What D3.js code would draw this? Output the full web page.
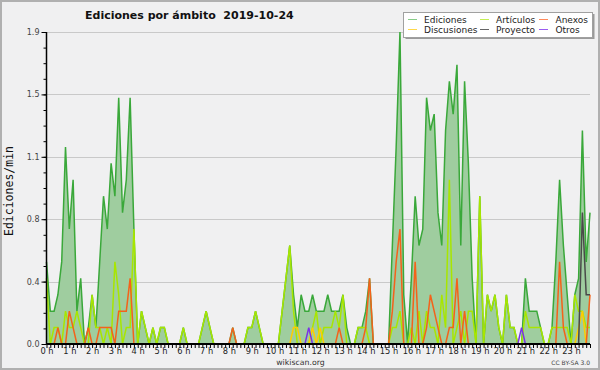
<!DOCTYPE html>
<html>
<head>
<meta charset="utf-8">
<script src="https://cdn.jsdelivr.net/npm/d3@7"></script>
<style>
  html, body { margin: 0; padding: 0; background: #f0f0f0; }
  svg { display: block; font-family: 'DejaVu Sans', sans-serif; }
</style>
</head>
<body>
<div id="app"></div>
<script>
// minutes since midnight, one point per 10-minute bin
const minutes = d3.range(0, 1440, 10);

// edits per minute (12 values = 2 hours per line)
const ediciones = [
  0.5, 0.2, 0.2, 0.3, 0.5, 1.2, 0.7, 1.0, 0.2, 0.4, 0, 0.1,
  0.3, 0.1, 0.5, 0.9, 0.7, 1.1, 0.9, 1.5, 0.8, 1.0, 1.5, 0.7,
  0, 0.2, 0.1, 0, 0.1, 0, 0.1, 0.1, 0, 0, 0, 0,
  0.1, 0, 0, 0, 0, 0.1, 0.2, 0.1, 0, 0, 0, 0,
  0, 0.1, 0, 0, 0, 0.1, 0.1, 0.2, 0.1, 0, 0, 0,
  0, 0, 0.2, 0.4, 0.6, 0.3, 0.1, 0.3, 0.2, 0.2, 0.3, 0.2,
  0.2, 0.2, 0.3, 0.2, 0.2, 0.2, 0.3, 0.1, 0, 0, 0.1, 0.1,
  0.2, 0.4, 0, 0, 0, 0, 0, 0.6, 1.2, 1.9, 0.3, 0,
  0.4, 0.9, 0.6, 0.7, 1.5, 1.3, 1.4, 0.8, 0.6, 1.3, 1.6, 1.4,
  1.7, 0.6, 1.6, 1.1, 0.4, 0, 0.9, 0, 0.3, 0.2, 0.3, 0.1,
  0, 0.3, 0.1, 0.1, 0, 0, 0.4, 0.2, 0.2, 0.2, 0.1, 0,
  0, 0.1, 0.5, 1.0, 0.6, 0.3, 0, 0.3, 0.4, 1.3, 0.5, 0.8
];

const articulos = [
  0.4, 0, 0.1, 0.1, 0, 0.2, 0.1, 0.1, 0.2, 0.1, 0, 0,
  0.3, 0.1, 0.1, 0, 0.1, 0, 0.5, 0.3, 0, 0.1, 0.1, 0.7,
  0, 0.2, 0.1, 0, 0.1, 0, 0.1, 0.1, 0, 0, 0, 0,
  0.1, 0, 0, 0, 0, 0.1, 0.2, 0.1, 0, 0, 0, 0,
  0, 0, 0, 0, 0, 0.1, 0.1, 0.2, 0.1, 0, 0, 0,
  0, 0, 0.2, 0.4, 0.6, 0.2, 0, 0, 0, 0, 0.1, 0.2,
  0, 0.1, 0.1, 0.1, 0.2, 0.1, 0.3, 0, 0, 0, 0.1, 0.1,
  0.1, 0, 0, 0, 0, 0, 0, 0.1, 0.1, 0.2, 0, 0,
  0.1, 0, 0.2, 0, 0.2, 0.1, 0.1, 0, 0.3, 0.1, 1.0, 0,
  0.1, 0.2, 0, 0.2, 0.2, 0, 0.9, 0, 0.3, 0.2, 0.3, 0.1,
  0, 0.3, 0.1, 0.1, 0, 0, 0.2, 0.1, 0.1, 0.1, 0.1, 0,
  0, 0.1, 0.1, 0.1, 0.1, 0.1, 0, 0.3, 0.2, 0.2, 0.1, 0.1
];

const anexos = [
  0, 0, 0, 0.1, 0, 0, 0.2, 0.1, 0, 0, 0, 0.1,
  0, 0, 0.1, 0.1, 0.1, 0.1, 0, 0.2, 0.2, 0.2, 0.4, 0,
  0, 0, 0, 0, 0, 0, 0, 0, 0, 0, 0, 0,
  0, 0, 0, 0, 0, 0, 0, 0, 0, 0, 0, 0,
  0, 0.1, 0, 0, 0, 0, 0, 0, 0, 0, 0, 0,
  0, 0, 0, 0, 0, 0, 0, 0, 0, 0, 0, 0,
  0, 0, 0, 0, 0, 0.1, 0, 0, 0, 0, 0, 0,
  0.1, 0.4, 0, 0, 0, 0, 0, 0.2, 0.5, 0.7, 0, 0,
  0, 0.5, 0, 0, 0.1, 0.3, 0.2, 0.1, 0, 0, 0.1, 0.1,
  0.4, 0, 0.2, 0, 0, 0, 0, 0, 0, 0, 0, 0,
  0, 0, 0, 0, 0, 0, 0, 0, 0, 0, 0, 0,
  0, 0, 0, 0.5, 0.1, 0, 0, 0, 0, 0, 0, 0.3
];

const discusiones = [
  0, 0, 0, 0, 0, 0, 0, 0, 0, 0, 0, 0,
  0, 0, 0, 0, 0, 0, 0, 0, 0, 0, 0, 0,
  0, 0, 0, 0, 0, 0, 0, 0, 0, 0, 0, 0,
  0, 0, 0, 0, 0, 0, 0, 0, 0, 0, 0, 0,
  0, 0, 0, 0, 0, 0, 0, 0, 0, 0, 0, 0,
  0, 0, 0, 0, 0, 0.1, 0.1, 0, 0, 0, 0.1, 0,
  0.1, 0, 0, 0, 0, 0, 0, 0, 0, 0, 0, 0,
  0, 0, 0, 0, 0, 0, 0, 0, 0, 0, 0, 0,
  0, 0, 0, 0, 0, 0, 0, 0, 0, 0, 0, 0,
  0, 0, 0, 0, 0, 0, 0, 0, 0, 0, 0, 0,
  0, 0, 0, 0, 0, 0, 0, 0, 0, 0, 0, 0,
  0, 0, 0, 0, 0, 0, 0, 0, 0.1, 0.2, 0, 0
];

const proyecto = [
  0, 0, 0, 0, 0, 0, 0, 0, 0, 0, 0, 0,
  0, 0, 0, 0, 0, 0, 0, 0, 0, 0, 0, 0,
  0, 0, 0, 0, 0, 0, 0, 0, 0, 0, 0, 0,
  0, 0, 0, 0, 0, 0, 0, 0, 0, 0, 0, 0,
  0, 0, 0, 0, 0, 0, 0, 0, 0, 0, 0, 0,
  0, 0, 0, 0, 0, 0, 0, 0, 0, 0, 0, 0,
  0, 0, 0, 0, 0, 0, 0, 0, 0, 0, 0, 0,
  0, 0, 0, 0, 0, 0, 0, 0, 0, 0, 0, 0,
  0, 0, 0, 0, 0, 0, 0, 0, 0, 0, 0, 0,
  0, 0, 0, 0, 0, 0, 0, 0, 0, 0, 0, 0,
  0, 0, 0, 0, 0, 0, 0, 0, 0, 0, 0, 0,
  0, 0, 0, 0, 0, 0, 0, 0, 0, 0.8, 0.3, 0.3
];

const otros = [
  0, 0, 0, 0, 0, 0, 0, 0, 0, 0, 0, 0,
  0, 0, 0, 0, 0, 0, 0, 0, 0, 0, 0, 0,
  0, 0, 0, 0, 0, 0, 0, 0, 0, 0, 0, 0,
  0, 0, 0, 0, 0, 0, 0, 0, 0, 0, 0, 0,
  0, 0, 0, 0, 0, 0, 0, 0, 0, 0, 0, 0,
  0, 0, 0, 0, 0, 0, 0, 0, 0, 0.1, 0, 0,
  0, 0, 0, 0, 0, 0, 0, 0, 0, 0, 0, 0,
  0, 0, 0, 0, 0, 0, 0, 0, 0, 0, 0, 0,
  0, 0, 0, 0, 0, 0, 0, 0, 0, 0, 0, 0,
  0, 0, 0, 0, 0, 0, 0, 0, 0, 0, 0, 0,
  0, 0, 0, 0, 0, 0.1, 0, 0, 0, 0, 0, 0,
  0, 0, 0, 0, 0, 0, 0, 0, 0, 0, 0, 0
];

const title = 'Ediciones por ámbito  2019-10-24';
const yLabel = 'Ediciones/min';
const yMax = 1.9;

// series drawn as lines on top of the filled total, in drawing order
const lineSeries = [
  { name: 'Artículos', values: articulos, color: '#a8e600' },
  { name: 'Discusiones', values: discusiones, color: '#ffcc00' },
  { name: 'Anexos', values: anexos, color: '#f4621a' },
  { name: 'Proyecto', values: proyecto, color: '#4a4a4a' },
  { name: 'Otros', values: otros, color: '#7a33e6' }
];

// legend layout: 3 columns x 2 rows
const legendItems = [
  { name: 'Ediciones', color: '#88cc88' },
  { name: 'Artículos', color: '#c4ee55' },
  { name: 'Anexos', color: '#ff8a5c' },
  { name: 'Discusiones', color: '#ffd84a' },
  { name: 'Proyecto', color: '#666666' },
  { name: 'Otros', color: '#9a5cf0' }
];

const W = 600, H = 370;
const plot = { left: 46.5, right: 590, top: 32, bottom: 344 };

const svg = d3.select('#app')
  .append('svg')
  .attr('width', W)
  .attr('height', H);

// background + frame
svg.append('rect')
  .attr('x', 1).attr('y', 1)
  .attr('width', W - 2).attr('height', H - 2)
  .attr('fill', '#f0f0f1')
  .attr('stroke', '#b0b0b0')
  .attr('stroke-width', 2);

const x = d3.scaleLinear().domain([0, 1430]).range([plot.left, plot.right]);
const y = d3.scaleLinear().domain([0, yMax]).range([plot.bottom, plot.top]);

const majorY = d3.range(0, 6).map((k) => (k * yMax) / 5);
const minorY = d3.range(0, 21).map((k) => (k * yMax) / 20);

// grid
svg.append('g')
  .selectAll('line')
  .data(majorY.slice(1))
  .enter()
  .append('line')
  .attr('x1', plot.left)
  .attr('x2', plot.right)
  .attr('y1', (d) => Math.round(y(d)) + 0.5)
  .attr('y2', (d) => Math.round(y(d)) + 0.5)
  .attr('stroke', '#c9c9c9')
  .attr('stroke-width', 1);

// total edits: area + line
const area = d3.area()
  .x((d, i) => x(minutes[i]))
  .y0(y(0))
  .y1((d) => y(d));

const line = d3.line()
  .x((d, i) => x(minutes[i]))
  .y((d) => y(d));

svg.append('path')
  .datum(ediciones)
  .attr('d', area)
  .attr('fill', '#9fcd9f');

svg.append('path')
  .datum(ediciones)
  .attr('d', line)
  .attr('fill', 'none')
  .attr('stroke', '#3aa83a')
  .attr('stroke-width', 1.5)
  .attr('stroke-linejoin', 'miter');

lineSeries.forEach((s) => {
  svg.append('path')
    .datum(s.values)
    .attr('d', line)
    .attr('fill', 'none')
    .attr('stroke', s.color)
    .attr('stroke-width', 1.5);
});

// x axis
const xAxis = d3.axisBottom(x)
  .tickValues(minutes)
  .tickSize(4)
  .tickPadding(0)
  .tickFormat((d) => (d % 60 === 0 ? `${d / 60} h` : ''));

const gx = svg.append('g')
  .attr('transform', `translate(0,${plot.bottom})`)
  .call(xAxis);
gx.select('.domain').remove();
gx.selectAll('.tick line').attr('stroke', '#000').attr('stroke-width', 1);
gx.selectAll('.tick text')
  .attr('font-family', 'DejaVu Sans')
  .attr('font-size', 8.3)
  .attr('fill', '#222');

// y axis: minor ticks, then major ticks with labels
const gyMinor = svg.append('g')
  .attr('transform', `translate(${plot.left},0)`)
  .call(d3.axisLeft(y).tickValues(minorY).tickSize(3).tickFormat(''));
gyMinor.select('.domain').remove();
gyMinor.selectAll('.tick line').attr('stroke', '#000');

const gy = svg.append('g')
  .attr('transform', `translate(${plot.left},0)`)
  .call(d3.axisLeft(y).tickValues(majorY).tickSize(5).tickPadding(2).tickFormat(d3.format('.1f')));
gy.select('.domain').remove();
gy.selectAll('.tick line').attr('stroke', '#000');
gy.selectAll('.tick text')
  .attr('font-family', 'DejaVu Sans')
  .attr('font-size', 8)
  .attr('fill', '#444');

// axis lines
svg.append('line')
  .attr('x1', plot.left).attr('x2', plot.left)
  .attr('y1', plot.top).attr('y2', plot.bottom)
  .attr('stroke', '#000').attr('stroke-width', 1.5);
svg.append('line')
  .attr('x1', plot.left).attr('x2', plot.right)
  .attr('y1', plot.bottom).attr('y2', plot.bottom)
  .attr('stroke', '#000').attr('stroke-width', 2);

// y label
svg.append('text')
  .attr('transform', `translate(13,191) rotate(-90)`)
  .attr('text-anchor', 'middle')
  .attr('font-family', 'DejaVu Sans Mono')
  .attr('font-size', 11.5)
  .attr('fill', '#111')
  .text(yLabel);

// title
svg.append('text')
  .attr('x', 85)
  .attr('y', 19)
  .attr('font-family', 'DejaVu Sans')
  .attr('font-weight', 'bold')
  .attr('font-size', 11)
  .attr('fill', '#111')
  .style('white-space', 'pre')
  .text(title);

// footer
svg.append('text')
  .attr('x', 300.5)
  .attr('y', 364.5)
  .attr('text-anchor', 'middle')
  .attr('font-size', 7.8)
  .attr('fill', '#333')
  .text('wikiscan.org');

svg.append('text')
  .attr('x', 590)
  .attr('y', 364.5)
  .attr('text-anchor', 'end')
  .attr('font-size', 6)
  .attr('fill', '#444')
  .text('CC BY-SA 3.0');

// legend
const lg = svg.append('g');
lg.append('rect')
  .attr('x', 405.5).attr('y', 14)
  .attr('width', 189).attr('height', 25)
  .attr('fill', '#9a9a9a');
lg.append('rect')
  .attr('x', 403.5).attr('y', 12.5)
  .attr('width', 189).attr('height', 25)
  .attr('fill', '#ffffff')
  .attr('stroke', '#a0a0a0')
  .attr('stroke-width', 1);

const colX = [408, 480, 539];
const rowY = [19.5, 29.5];

const items = lg.selectAll('g.item')
  .data(legendItems)
  .enter()
  .append('g')
  .attr('class', 'item')
  .attr('transform', (d, i) => `translate(${colX[i % 3]},${rowY[Math.floor(i / 3)]})`);

items.append('line')
  .attr('x1', 0).attr('x2', 9)
  .attr('y1', 0).attr('y2', 0)
  .attr('stroke', (d) => d.color)
  .attr('stroke-width', 1);

items.append('text')
  .attr('x', (d, i) => (i % 3 === 2 ? 16.5 : 16))
  .attr('y', 3.2)
  .attr('font-size', 9)
  .attr('fill', '#222')
  .text((d) => d.name);
</script>
</body>
</html>
